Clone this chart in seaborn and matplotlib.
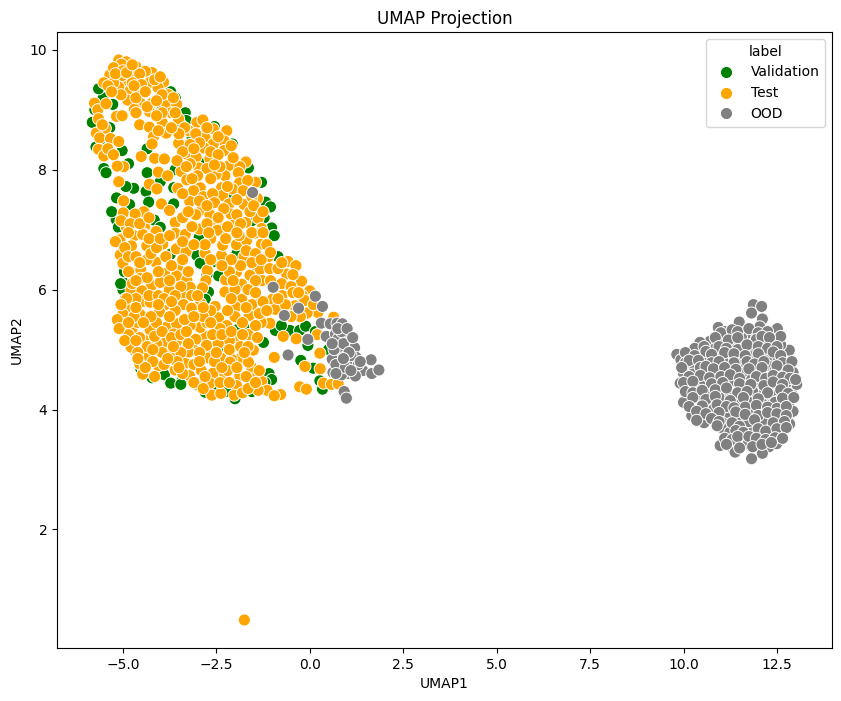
import pandas as pd
import seaborn as sns
import matplotlib.pyplot as plt

validation_points = [
    (-5.53, 9.2), (-5.27, 9.09), (-5.82, 8.79), (-5.02, 8.32), (-5.51, 8.02), (-4.85, 8.1), (-4.35, 8.35),
    (-4.71, 7.69), (-4.38, 7.64), (-5.17, 7.53), (-5.18, 7.17), (-3.64, 7.43), (-4.0, 7.8), (-3.64, 7.7),
    (-2.62, 7.43), (-1.18, 7.46), (-1.29, 7.79), (-1.64, 8.03), (-1.02, 7.03), (-0.97, 6.9), (-2.07, 8.43),
    (-3.33, 8.95), (-3.6, 9.2), (-4.16, 7.16), (-4.0, 7.04), (-4.31, 7.46), (-0.95, 6.9), (-2.96, 6.87),
    (-3.73, 6.59), (-2.53, 6.47), (-2.44, 6.23), (-3.02, 6.57), (-2.93, 6.44), (-4.98, 6.12), (-4.89, 5.96),
    (-2.71, 5.96), (-2.8, 5.84), (-2.04, 5.84), (-1.24, 5.12), (-1.69, 5.34), (-1.91, 5.34), (-0.92, 5.32),
    (-0.53, 5.32), (-0.27, 5.32), (-0.11, 5.39), (-0.05, 5.07), (-0.24, 4.82), (0.09, 4.69), (0.27, 4.48),
    (0.34, 4.34), (-1.09, 4.6), (-1.02, 4.5), (-3.89, 4.58), (-3.42, 4.48), (-2.8, 4.29), (-2.0, 4.18),
    (-4.67, 4.98), (-0.4, 6.09), (-2.58, 5.01), (-5.6, 8.4), (-5.45, 7.95), (-5.3, 7.3), (-5.0, 6.0),
    (-4.75, 5.2), (-4.55, 4.9), (-3.6, 8.0), (-2.9, 8.1), (-2.4, 7.0), (-1.95, 6.6), (-1.5, 6.3), (-2.3, 5.0),
    (-3.0, 4.4), (-2.5, 4.3), (-1.2, 4.45), (0.15, 5.3), (0.5, 5.0), (-5.65, 9.35), (-5.35, 8.7), (-3.15, 8.55),
    (-3.95, 9.0), (-5.75, 9.0), (-5.72, 8.38), (-4.92, 7.72), (-4.82, 7.42), (-5.12, 7.04), (-4.96, 6.3),
    (-5.06, 6.1), (-4.93, 5.85), (-4.72, 5.08), (-4.52, 4.68), (-4.22, 4.53), (-3.72, 4.44), (-2.22, 4.3),
    (-0.76, 5.4), (-1.05, 7.38), (-1.22, 7.2), (-2.55, 8.72), (-3.3, 8.82), (-3.72, 9.3), (-4.35, 7.95),
    (-2.15, 7.6), (-1.55, 7.15), (-0.85, 6.55), (-3.45, 4.42), (-1.55, 4.3), (-2.75, 6.25), (-3.45, 8.75),
]

test_points = [
    (-5.11, 9.83), (-4.91, 9.8), (-4.65, 9.72), (-5.04, 9.76), (-4.22, 9.62), (-4.4, 9.64), (-5.35, 9.58),
    (-5.51, 9.45), (-4.93, 9.47), (-4.63, 9.54), (-5.02, 9.57), (-3.91, 9.46), (-4.27, 9.46), (-4.06, 9.37),
    (-4.51, 9.28), (-4.8, 9.33), (-5.11, 9.38), (-3.78, 9.25), (-4.87, 9.16), (-4.22, 9.11), (-4.53, 9.11),
    (-3.84, 9.11), (-3.56, 9.09), (-5.76, 9.11), (-5.67, 9.0), (-4.69, 9.01), (-4.29, 8.97), (-3.71, 8.95),
    (-3.51, 8.85), (-5.17, 8.89), (-5.02, 8.9), (-5.65, 8.85), (-4.55, 8.75), (-3.95, 8.79), (-4.29, 8.71),
    (-3.02, 8.79), (-2.86, 8.83), (-3.24, 8.65), (-3.84, 8.61), (-2.58, 8.68), (-2.22, 8.65), (-5.47, 8.69),
    (-5.71, 8.61), (-5.62, 8.53), (-5.33, 8.52), (-5.11, 8.47), (-5.65, 8.34), (-5.51, 8.23), (-4.18, 8.55),
    (-4.22, 8.43), (-3.51, 8.44), (-2.8, 8.53), (-2.29, 8.48), (-2.58, 8.43), (-2.82, 8.36), (-2.29, 8.32),
    (-3.29, 8.26), (-3.04, 8.21), (-2.67, 8.18), (-4.51, 8.22), (-4.15, 8.19), (-3.89, 8.18), (-4.98, 8.05),
    (-5.15, 8.06), (-2.97, 8.03), (-2.16, 8.07), (-1.71, 8.13), (-1.87, 8.05), (-3.44, 7.97), (-4.05, 7.96),
    (-3.8, 7.9), (-1.91, 7.95), (-2.27, 7.9), (-2.51, 7.92), (-3.29, 7.83), (-5.11, 7.8), (-4.29, 7.76),
    (-4.09, 7.68), (-3.53, 7.69), (-2.93, 7.7), (-3.11, 7.65), (-1.45, 7.79), (-1.88, 7.78), (-1.66, 7.82),
    (-2.07, 7.68), (-1.78, 7.65), (-2.36, 7.7), (-2.33, 7.57), (-1.4, 7.52), (-2.16, 7.43), (-1.76, 7.42),
    (-3.97, 7.43), (-3.21, 7.47), (-2.89, 7.33), (-3.75, 7.32), (-4.98, 7.48), (-4.99, 7.28), (-4.44, 7.3),
    (-4.67, 7.26), (-2.11, 7.26), (-1.38, 7.19), (-2.67, 7.25), (-1.71, 7.12), (-2.03, 7.08), (-2.51, 7.1),
    (-3.6, 7.12), (-4.42, 7.05), (-4.91, 7.04), (-1.29, 7.02), (-1.45, 6.95), (-2.47, 6.99), (-2.95, 7.01),
    (-3.6, 6.94), (-4.11, 6.97), (-4.45, 6.93), (-3.33, 6.92), (-1.88, 6.9), (-5.07, 6.85), (-4.7, 6.9),
    (-4.19, 6.82), (-5.08, 6.83), (-4.77, 6.73), (-4.47, 6.92), (-4.36, 6.73), (-3.93, 6.76), (-3.57, 6.68),
    (-3.31, 6.63), (-2.8, 6.61), (-2.36, 6.57), (-2.33, 6.74), (-1.96, 6.75), (-1.69, 6.82), (-1.29, 6.76),
    (-1.47, 6.94), (-1.89, 6.9), (-1.76, 6.55), (-1.11, 6.55), (-1.33, 6.34), (-0.58, 6.47), (-0.37, 6.4),
    (-0.62, 6.26), (-1.07, 6.35), (-1.6, 6.24), (-1.96, 6.29), (-2.74, 6.32), (-2.25, 6.16), (-1.82, 6.09),
    (-1.27, 6.15), (-2.78, 6.15), (-0.22, 6.14), (-5.07, 6.58), (-5.0, 6.44), (-4.78, 6.27), (-4.52, 6.33),
    (-4.12, 6.46), (-3.89, 6.27), (-3.53, 6.38), (-3.57, 6.23), (-3.29, 6.16), (-4.53, 6.19), (-4.24, 6.07),
    (-4.0, 6.12), (-4.78, 5.99), (-4.49, 5.98), (-3.76, 5.99), (-3.2, 6.04), (-2.87, 6.03), (-3.42, 5.9),
    (-3.16, 5.9), (-2.27, 5.96), (-1.82, 5.84), (-1.44, 5.9), (-1.0, 5.84), (-0.74, 5.9), (-0.4, 5.73),
    (0.0, 5.98), (-0.2, 5.9), (-0.13, 5.82), (0.22, 5.62), (-0.07, 5.61), (-4.47, 5.8), (-4.87, 5.67),
    (-4.27, 5.79), (-3.87, 5.75), (-3.38, 5.75), (-2.92, 5.77), (-3.16, 5.69), (-2.53, 5.72), (-1.98, 5.71),
    (-1.62, 5.57), (-1.24, 5.62), (-1.07, 5.44), (-0.92, 5.67), (-4.02, 5.63), (-4.53, 5.58), (-5.0, 5.59),
    (-4.96, 5.43), (-4.76, 5.34), (-4.27, 5.33), (-3.82, 5.38), (-3.56, 5.43), (-3.0, 5.55), (-2.44, 5.53),
    (-2.22, 5.4), (-2.0, 5.55), (-1.64, 5.25), (-1.98, 5.18), (-2.78, 5.22), (-3.05, 5.17), (-3.57, 5.13),
    (-3.85, 5.12), (-4.45, 5.16), (-4.78, 5.04), (-4.36, 4.88), (-3.73, 4.91), (-3.11, 4.99), (-2.76, 5.07),
    (-2.37, 4.86), (-1.51, 4.99), (-1.84, 4.86), (-2.09, 4.84), (-2.71, 4.86), (-3.33, 4.77), (-4.05, 4.73),
    (-4.55, 4.76), (-4.47, 4.59), (-3.6, 4.66), (-3.22, 4.57), (-2.58, 4.61), (-2.27, 4.59), (-1.87, 4.56),
    (-1.51, 4.56), (-1.56, 4.71), (-2.13, 4.79), (-2.98, 4.41), (-2.67, 4.44), (-1.96, 4.4), (-1.29, 4.47),
    (-2.62, 4.24), (-2.38, 4.27), (-2.02, 4.24), (-1.8, 4.28), (-1.14, 4.32), (-0.78, 4.25), (-0.95, 4.23),
    (-1.38, 4.32), (-0.27, 4.38), (-0.09, 4.34), (-0.95, 4.87), (-0.13, 4.72), (0.28, 4.68), (0.37, 4.44),
    (0.58, 4.42), (0.76, 4.43), (0.27, 4.94), (0.2, 5.25), (-0.71, 5.22), (-0.36, 5.18), (0.64, 5.54),
    (-2.93, 5.37), (-3.64, 5.26), (-4.09, 5.09), (-3.24, 4.96), (-1.64, 4.79), (-1.75, 0.49),
    (-5.25, 9.7), (-5.0, 9.65), (-4.8, 9.6), (-4.55, 9.6), (-4.75, 9.45), (-4.5, 9.42), (-5.25, 9.45),
    (-5.4, 9.4), (-5.05, 9.25), (-4.65, 9.2), (-4.4, 9.3), (-4.15, 9.5), (-4.0, 9.55), (-3.95, 9.25),
    (-4.35, 9.05), (-4.7, 9.4), (-5.2, 9.6), (-4.9, 9.62), (-4.75, 9.75), (-4.1, 9.15), (-3.65, 9.2),
    (-3.95, 8.95), (-4.1, 8.9), (-3.6, 8.95), (-3.35, 8.7), (-3.5, 8.6), (-3.7, 8.7), (-3.05, 8.6), (-2.75, 8.7),
    (-2.45, 8.55), (-2.95, 8.45), (-3.2, 8.42), (-3.4, 8.3), (-3.1, 8.35), (-2.65, 8.3), (-2.45, 8.25),
    (-2.1, 8.4), (-2.05, 8.2), (-2.4, 8.05), (-2.75, 8.02), (-3.2, 8.1), (-3.0, 7.9), (-3.55, 8.15), (-2.65, 7.85),
    (-2.85, 7.55), (-3.15, 7.85), (-3.4, 7.6), (-2.6, 7.6), (-2.55, 7.45), (-2.95, 7.48), (-2.3, 7.35),
    (-1.95, 7.5), (-1.55, 7.55), (-1.6, 7.3), (-1.95, 7.25), (-1.5, 7.4), (-2.45, 7.2), (-2.2, 7.05), (-1.85, 7.1),
    (-1.55, 6.95), (-2.25, 6.85), (-2.65, 6.85), (-2.8, 6.75), (-1.7, 6.65), (-1.45, 6.6), (-1.15, 6.75),
    (-1.55, 6.45), (-1.85, 6.4), (-2.1, 6.5), (-2.15, 6.3), (-1.3, 6.5), (-1.05, 6.15), (-0.85, 6.35), (-0.75, 6.1),
    (-1.45, 6.15), (-1.65, 6.0), (-2.0, 6.0), (-2.1, 5.85), (-1.55, 5.75), (-1.25, 5.8), (-0.5, 6.05), (-0.45, 5.95),
    (-0.65, 5.75), (-0.85, 5.85), (-1.7, 5.7), (-1.3, 5.45), (-1.45, 5.4), (-1.8, 5.45), (-2.2, 5.65), (-2.4, 5.35),
    (-2.15, 5.15), (-2.45, 5.1), (-2.6, 5.25), (-2.75, 5.45), (-2.65, 5.65), (-2.85, 5.55), (-3.2, 5.4), (-3.35, 5.5),
    (-3.6, 5.65), (-3.75, 5.55), (-4.1, 5.45), (-4.25, 5.55), (-4.6, 5.45), (-4.7, 5.55), (-4.85, 5.25), (-4.55, 5.2),
    (-4.35, 5.05), (-4.15, 5.22), (-3.95, 5.3), (-3.7, 5.2), (-3.45, 5.25), (-3.25, 5.1), (-2.95, 4.95), (-3.45, 4.95),
    (-3.65, 5.05), (-3.95, 4.95), (-4.2, 4.8), (-4.6, 4.95), (-4.4, 4.7), (-3.9, 4.75), (-3.55, 4.8), (-3.1, 4.75),
    (-2.9, 4.65), (-2.55, 4.8), (-2.8, 4.55), (-3.4, 4.6), (-4.15, 4.55), (-2.4, 4.45), (-2.15, 4.45), (-2.2, 4.65),
    (-1.95, 4.7), (-1.7, 4.55), (-1.65, 4.35), (-1.45, 4.45), (-2.5, 4.95), (-2.15, 5.0), (-1.85, 5.05), (-1.65, 5.05),
    (-3.1, 4.45), (-2.85, 4.35), (-5.2, 6.8), (-4.95, 6.7), (-4.85, 6.55), (-4.65, 6.55), (-4.35, 6.5), (-4.55, 6.45),
    (-4.25, 6.6), (-4.1, 6.7), (-3.85, 6.55), (-3.7, 6.4), (-3.4, 6.5), (-4.75, 6.1), (-4.35, 6.2), (-4.05, 6.3),
    (-3.75, 6.15), (-3.45, 6.05), (-4.65, 5.85), (-4.9, 5.85), (-4.3, 5.9), (-4.05, 5.9), (-3.9, 5.85), (-3.6, 5.9),
    (-3.0, 5.9), (-2.85, 5.7), (-5.05, 5.75), (-5.15, 5.5), (-5.1, 5.35), (-4.95, 5.15), (-5.05, 7.15), (-4.8, 7.1),
    (-4.55, 7.1), (-4.3, 7.2), (-4.85, 6.95), (-4.3, 6.85), (-4.0, 6.85), (-3.75, 6.9), (-3.4, 6.8), (-3.1, 6.75),
    (-3.15, 7.05), (-3.4, 7.2), (-2.75, 7.1), (-2.7, 6.95),
    (-5.3, 9.3), (-5.45, 9.1), (-5.55, 8.75), (-5.4, 8.35), (-5.25, 8.25), (-4.65, 8.95), (-4.05, 8.65),
    (-3.3, 8.05), (-2.55, 8.08), (-2.2, 7.72), (-2.75, 7.4), (-3.05, 7.25), (-3.25, 7.3), (-1.95, 6.95),
    (-1.25, 7.3), (-1.25, 6.95), (-1.05, 6.62), (-0.75, 6.45), (-0.45, 6.25), (-0.3, 5.95), (0.1, 5.75),
    (-0.25, 5.55), (-0.5, 5.55), (-1.4, 5.2), (-1.35, 5.6), (-1.15, 5.65), (-2.65, 5.45), (-4.65, 5.7),
    (-4.45, 5.45), (-4.05, 5.75), (-3.7, 5.8), (-3.3, 5.3), (-3.1, 5.55), (-2.35, 5.25), (-2.1, 5.3),
    (-1.8, 5.25), (-4.65, 5.15), (-4.2, 5.0), (-3.8, 4.85), (-3.5, 4.7), (-2.95, 4.8), (-2.35, 4.7),
    (-1.75, 4.95), (-1.35, 4.65), (-4.6, 4.85), (-4.85, 5.45), (-4.85, 6.3), (-4.65, 6.15), (-3.25, 6.3),
    (-2.65, 6.5), (-2.35, 6.4), (-2.05, 6.15), (-1.45, 5.95),
]

ood_points = [
    (-1.53, 7.62), (-0.98, 6.04), (0.15, 5.89), (0.34, 5.72), (-0.3, 5.69), (-0.68, 5.57), (-0.05, 5.17),
    (-0.58, 4.91), (0.31, 5.44), (0.55, 5.43), (0.73, 5.44), (0.87, 5.43), (0.44, 5.22), (0.69, 5.26),
    (0.98, 5.23), (0.76, 5.18), (1.07, 5.12), (1.2, 5.03), (0.8, 5.04), (0.98, 4.98), (0.8, 4.94), (1.24, 4.87),
    (0.6, 4.84), (1.11, 4.79), (0.82, 4.75), (1.64, 4.83), (1.42, 4.65), (1.66, 4.6), (1.85, 4.66), (1.02, 4.6),
    (0.85, 4.58), (1.22, 4.56), (0.92, 4.3), (0.98, 4.19), (0.62, 4.62), (1.3, 4.75), (0.95, 4.88), (1.1, 4.9),
    (0.65, 5.0), (0.9, 5.1), (1.05, 4.95), (0.7, 4.75), (0.95, 4.7), (0.7, 4.6), (1.1, 4.65), (1.35, 4.8),
    (0.85, 5.3), (0.6, 5.1), (0.75, 5.35), (0.9, 4.85), (1.0, 5.35), (1.15, 5.2),
    (11.87, 5.75), (12.09, 5.72), (11.82, 5.61), (12.11, 5.51), (12.04, 5.38), (11.49, 5.46), (10.93, 5.37),
    (11.11, 5.3), (12.45, 5.28), (12.51, 5.35), (11.82, 5.22), (10.71, 5.14), (10.44, 5.12), (11.05, 5.1),
    (11.36, 5.1), (12.18, 5.15), (12.4, 5.15), (11.87, 5.03), (11.6, 5.01), (12.69, 4.98), (12.83, 4.99),
    (10.43, 4.97), (10.89, 4.96), (10.18, 4.93), (9.82, 4.92), (11.24, 4.92), (11.8, 4.88), (12.29, 4.84),
    (12.53, 4.87), (12.83, 4.75), (9.93, 4.83), (10.52, 4.79), (10.29, 4.72), (10.93, 4.66), (11.24, 4.73),
    (12.29, 4.72), (11.94, 4.65), (11.6, 4.73), (12.93, 4.62), (12.67, 4.65), (10.25, 4.59), (10.0, 4.6),
    (10.67, 4.65), (11.76, 4.53), (11.36, 4.48), (10.87, 4.46), (12.55, 4.49), (12.04, 4.49), (9.91, 4.44),
    (10.11, 4.4), (10.33, 4.37), (11.6, 4.37), (12.93, 4.37), (12.46, 4.23), (12.0, 4.29), (11.07, 4.29),
    (10.67, 4.29), (12.18, 4.2), (10.13, 4.18), (10.0, 4.12), (10.44, 4.18), (12.84, 4.14), (11.5, 4.09),
    (11.02, 4.07), (10.67, 4.09), (10.8, 4.0), (12.37, 4.09), (11.87, 3.98), (12.09, 3.97), (12.93, 3.97),
    (12.62, 4.01), (10.22, 3.9), (10.55, 3.78), (11.13, 3.83), (12.13, 3.82), (12.84, 3.76), (12.58, 3.84),
    (11.6, 3.76), (11.02, 3.7), (11.85, 3.69), (12.31, 3.65), (11.24, 3.62), (12.67, 3.65), (12.53, 3.55),
    (12.04, 3.55), (11.53, 3.46), (10.98, 3.4), (11.29, 3.38), (11.73, 3.43), (11.96, 3.4), (12.29, 3.38),
    (11.38, 3.29), (12.11, 3.27), (11.82, 3.18), (12.49, 3.43), (13.03, 4.42), (11.3, 5.2), (11.65, 5.25),
    (12.15, 5.0), (10.65, 4.85), (11.05, 4.82), (11.45, 4.85), (12.05, 4.82), (12.45, 4.65), (10.55, 4.48),
    (11.1, 4.55), (11.85, 4.3), (12.3, 4.42), (12.7, 4.3), (11.3, 4.25), (10.95, 4.2), (12.15, 4.55),
    (11.55, 4.6), (11.7, 4.15), (12.1, 4.1), (11.2, 3.95), (11.45, 3.85), (12.4, 3.9), (11.75, 3.8),
    (10.85, 5.02), (10.3, 5.02), (11.55, 5.2), (12.6, 5.08), (12.75, 4.45), (12.55, 4.15),
    (11.0, 5.28), (11.3, 5.33), (11.45, 5.3), (11.75, 5.35), (12.0, 5.28), (12.25, 5.3), (12.6, 5.22),
    (10.85, 5.2), (11.2, 5.16), (11.45, 5.2), (11.95, 5.17), (12.1, 5.22), (12.3, 5.2), (10.55, 5.05),
    (10.95, 5.05), (11.15, 5.02), (11.45, 5.0), (11.7, 5.08), (12.0, 5.05), (12.25, 5.02), (12.5, 5.05),
    (10.05, 4.95), (10.3, 4.9), (10.6, 4.97), (10.75, 4.92), (11.1, 4.95), (11.35, 4.93), (11.65, 4.9),
    (12.0, 4.93), (12.4, 4.96), (12.6, 4.9), (10.05, 4.78), (10.15, 4.82), (10.4, 4.82), (10.75, 4.78),
    (10.95, 4.8), (11.35, 4.78), (11.7, 4.8), (11.9, 4.76), (12.15, 4.8), (12.65, 4.78), (12.9, 4.8),
    (9.95, 4.7), (10.45, 4.7), (10.6, 4.72), (10.8, 4.68), (11.1, 4.7), (11.4, 4.67), (11.75, 4.68),
    (12.1, 4.7), (12.5, 4.73), (12.8, 4.66), (10.15, 4.55), (10.45, 4.57), (10.7, 4.53), (11.0, 4.55),
    (11.25, 4.58), (11.5, 4.52), (11.95, 4.55), (12.2, 4.52), (12.4, 4.57), (12.65, 4.54), (12.85, 4.52),
    (13.0, 4.5), (10.0, 4.45), (10.25, 4.47), (10.75, 4.43), (11.05, 4.45), (11.5, 4.43), (11.8, 4.42),
    (12.15, 4.4), (12.4, 4.46), (12.65, 4.42), (10.05, 4.3), (10.25, 4.28), (10.5, 4.32), (10.85, 4.33),
    (11.15, 4.36), (11.45, 4.28), (11.7, 4.3), (12.25, 4.28), (12.6, 4.33), (12.8, 4.27), (10.25, 4.2),
    (10.6, 4.17), (10.85, 4.22), (11.25, 4.15), (11.6, 4.2), (12.0, 4.18), (12.45, 4.12), (12.65, 4.19),
    (12.95, 4.2), (10.15, 4.05), (10.5, 4.06), (10.9, 4.08), (11.15, 4.05), (11.35, 4.03), (11.65, 4.04),
    (11.95, 4.07), (12.25, 4.04), (12.5, 4.02), (12.75, 4.05), (10.35, 3.97), (10.6, 3.93), (10.95, 3.95),
    (11.4, 3.96), (11.65, 3.92), (12.0, 3.9), (12.25, 3.95), (12.5, 3.93), (12.75, 3.9), (10.35, 3.82),
    (10.75, 3.85), (10.95, 3.8), (11.3, 3.78), (11.5, 3.72), (11.9, 3.83), (12.4, 3.78), (12.7, 3.8),
    (10.9, 3.73), (11.4, 3.65), (11.6, 3.62), (12.0, 3.68), (12.2, 3.64), (12.5, 3.68), (12.75, 3.7),
    (11.1, 3.52), (11.3, 3.5), (11.45, 3.55), (11.75, 3.55), (11.95, 3.52), (12.2, 3.5), (12.45, 3.53),
    (12.65, 3.52), (11.15, 3.42), (11.5, 3.36), (11.85, 3.38), (12.1, 3.42), (12.35, 3.45),
]

labels = ['Validation', 'Test', 'OOD']
colors = ['green', 'orange', 'grey']

frames = []
for name, pts in zip(labels, [validation_points, test_points, ood_points]):
    part = pd.DataFrame(pts, columns=['UMAP1', 'UMAP2'])
    part['label'] = name
    frames.append(part)
df = pd.concat(frames, ignore_index=True)

fig, ax = plt.subplots(figsize=(8.41, 7.01), dpi=100)
fig.subplots_adjust(left=57 / 841, right=832 / 841, top=1 - 32 / 701, bottom=1 - 648 / 701)
sns.scatterplot(data=df, x='UMAP1', y='UMAP2', hue='label', palette=dict(zip(labels, colors)), s=76, ax=ax)
ax.set_title('UMAP Projection')
ax.legend(title='label', loc='upper right')
fig.savefig('out.png', dpi=100)
